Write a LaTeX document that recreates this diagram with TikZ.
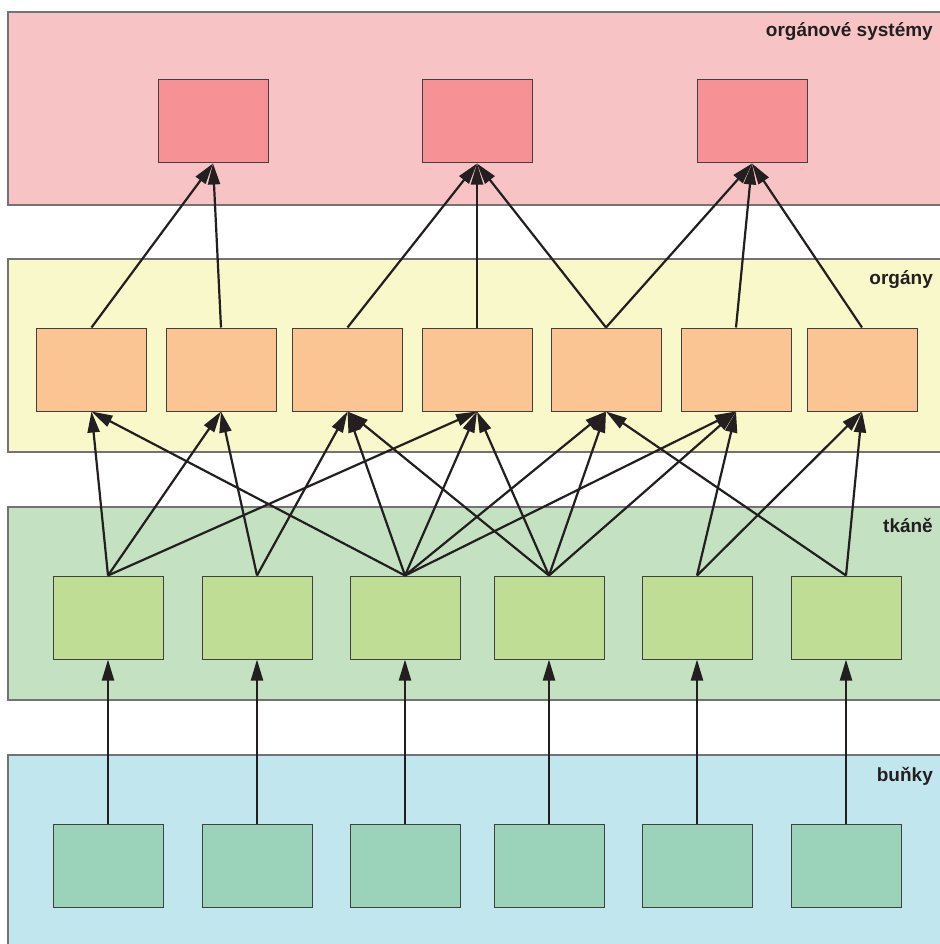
\documentclass[tikz,border=0pt]{standalone}
\usepackage{fontspec}
\setmainfont{Liberation Sans}
\usepackage{xcolor}
\usetikzlibrary{arrows.meta,positioning}
\definecolor{BandR}{HTML}{F8C3C4}
\definecolor{BandY}{HTML}{F8F8CA}
\definecolor{BandG}{HTML}{C4E2C1}
\definecolor{BandB}{HTML}{C2E6EE}
\definecolor{BoxR}{HTML}{F69296}
\definecolor{BoxO}{HTML}{FBC593}
\definecolor{BoxG}{HTML}{C0DD95}
\definecolor{BoxB}{HTML}{9AD3BA}
\definecolor{Ink}{HTML}{231F20}
\tikzset{
  band/.style={draw=black!55, line width=1.4pt},
  unit/.style={rectangle, draw=black!75, line width=1pt, inner sep=0pt,
    minimum width=110pt, minimum height=83pt},
  lvl/.style={anchor=base east, inner sep=0pt, text=Ink,
    font=\bfseries\fontsize{19}{22}\selectfont},
  arr/.style={draw=Ink, line width=2.2pt, -{Triangle[length=21pt,width=12pt]}}
}

\begin{document}
\begin{tikzpicture}[x=1pt,y=-1pt]
        \useasboundingbox (0,0) rectangle (939,944);
        % layers
        \fill[white] (0,0) rectangle (939,944);
        \draw[band, fill=BandR] (8,12) rectangle (945,205);
        \draw[band, fill=BandY] (8,259) rectangle (945,452);
        \draw[band, fill=BandG] (8,507) rectangle (945,700);
        \draw[band, fill=BandB] (8,755) rectangle (945,952);
        \node[lvl] (tsys) at (933,37) {orgánové systémy};
        \node[lvl] (torg) at (933,284) {orgány};
        \node[lvl] (ttk) at (933,532) {tkáně};
        \node[lvl] (tbu) at (933,781) {buňky};
        % boxes
        \foreach \x [count=\i] in {213,477,752}
          \node[unit, fill=BoxR] (r\i) at (\x,121.5) {};
        \foreach \x [count=\i] in {91.5,221,347.5,477,606,736,862}
          \node[unit, fill=BoxO] (o\i) at (\x,369.5) {};
        \foreach \x [count=\i] in {108,257,405,549,697,846}{
          \node[unit, fill=BoxG] (g\i) at (\x,617.5) {};
          \node[unit, fill=BoxB] (c\i) at (\x,865.5) {};
        }
        % links
        \foreach \i in {1,...,6}
          \draw[arr] (c\i.north) -- (g\i.south);
        \foreach \a/\b in {g1/o1,g1/o2,g1/o4,g2/o2,g2/o3,g3/o1,g3/o3,g3/o4,
            g3/o5,g3/o6,g4/o3,g4/o4,g4/o5,g4/o6,g5/o6,g5/o7,g6/o5,g6/o7}
          \draw[arr] (\a.north) -- (\b.south);
        \foreach \a/\b in {o1/r1,o2/r1,o3/r2,o4/r2,o5/r2,o5/r3,o6/r3,o7/r3}
          \draw[arr] (\a.north) -- (\b.south);
      \end{tikzpicture}
\end{document}
